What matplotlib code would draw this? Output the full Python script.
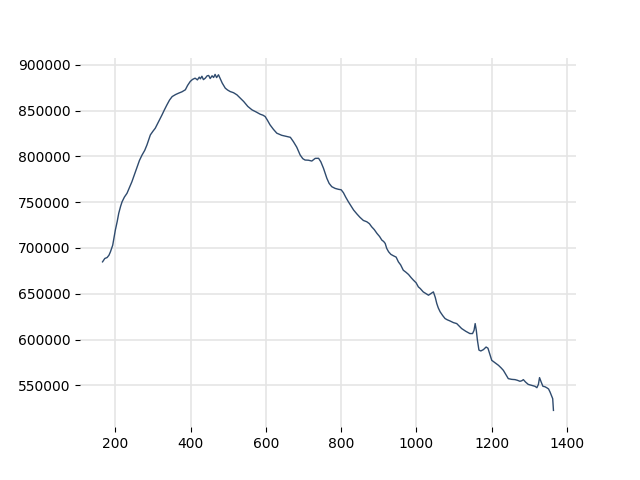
import matplotlib
matplotlib.use("Agg")
import matplotlib.pyplot as plt

x_vals = [166, 172, 178, 183, 187, 193, 200, 205, 209, 214, 218, 224, 231, 237, 244, 251,
          258, 264, 271, 278, 284, 289, 293, 300, 306, 315, 324, 330, 337, 344, 351, 360,
          368, 377, 386, 392, 399, 405, 412, 418, 423, 426, 430, 434, 439, 444, 448, 452,
          457, 461, 465, 469, 474, 478, 484, 492, 498, 505, 514, 523, 532, 541, 552, 563,
          574, 585, 592, 598, 604, 611, 620, 629, 642, 656, 665, 673, 682, 691, 698, 704,
          713, 722, 731, 740, 746, 753, 758, 762, 768, 775, 784, 793, 800, 806, 812, 819,
          826, 833, 842, 850, 859, 868, 875, 881, 888, 895, 902, 908, 913, 917, 921, 926,
          932, 939, 946, 952, 958, 965, 972, 979, 986, 992, 999, 1005, 1010, 1018, 1024,
          1028, 1032, 1038, 1045, 1050, 1054, 1058, 1063, 1070, 1076, 1082, 1089, 1098,
          1107, 1114, 1120, 1131, 1142, 1149, 1153, 1156, 1159, 1162, 1166, 1171, 1178,
          1185, 1190, 1196, 1200, 1209, 1218, 1225, 1231, 1238, 1244, 1253, 1262, 1268,
          1275, 1280, 1284, 1290, 1297, 1306, 1315, 1320, 1324, 1327, 1331, 1336, 1341,
          1346, 1351, 1355, 1359, 1362, 1364]

y_vals = [684800, 688500, 689500, 692000, 695800, 703000, 719500, 729000, 737800, 745500,
          750500, 755500, 759700, 765500, 772300, 780500, 788800, 795500, 801500, 806500,
          812500, 818500, 823400, 827500, 830700, 838000, 845300, 850500, 856200, 861500,
          865300, 867500, 869000, 870500, 872700, 877500, 881800, 884000, 885400, 883500,
          886500, 884700, 887500, 883800, 885400, 888000, 888300, 885000, 888000, 886100,
          889500, 886000, 889100, 885500, 880000, 874500, 872500, 870800, 869500, 867200,
          863500, 859900, 854500, 850800, 848500, 846000, 845000, 843500, 839500, 834400,
          829500, 825300, 823000, 821600, 820800, 816100, 810000, 801500, 797500, 796000,
          795800, 794900, 797800, 797900, 794000, 787000, 781000, 776000, 770500, 766900,
          765000, 764000, 763500, 760300, 755500, 750500, 746000, 741400, 737000, 733400,
          730000, 728600, 726500, 723100, 720000, 715900, 712500, 708600, 707000, 704900,
          699500, 695800, 693000, 691400, 690000, 684800, 681500, 675700, 673500, 671000,
          667500, 664800, 662000, 657500, 655700, 652000, 650500, 649500, 648400, 650000,
          652000, 646000, 639300, 634500, 630200, 626000, 622900, 621500, 620300, 618500,
          617400, 614500, 612000, 609000, 606500, 606500, 610000, 617400, 610000, 599200,
          588500, 587500, 589000, 591800, 590500, 582800, 577300, 574500, 571800, 569000,
          566300, 561500, 557300, 556500, 556200, 555500, 554400, 555000, 556200, 553500,
          551000, 550000, 548900, 547400, 551000, 558400, 554000, 548900, 548500, 547400,
          546000, 542600, 538500, 535400, 522600]

fig, ax = plt.subplots(figsize=(6.4, 4.8), dpi=100)
ax.plot(x_vals, y_vals, color="#2f4b6e", linewidth=1.0)

ax.set_xticks([200, 400, 600, 800, 1000, 1200, 1400])
ax.set_yticks([550000, 600000, 650000, 700000, 750000, 800000, 850000, 900000])
ax.grid(True, color="#e5e5e5", linewidth=1.2)
ax.set_axisbelow(True)
for s in ax.spines.values():
    s.set_visible(False)

fig.savefig("out.png")
